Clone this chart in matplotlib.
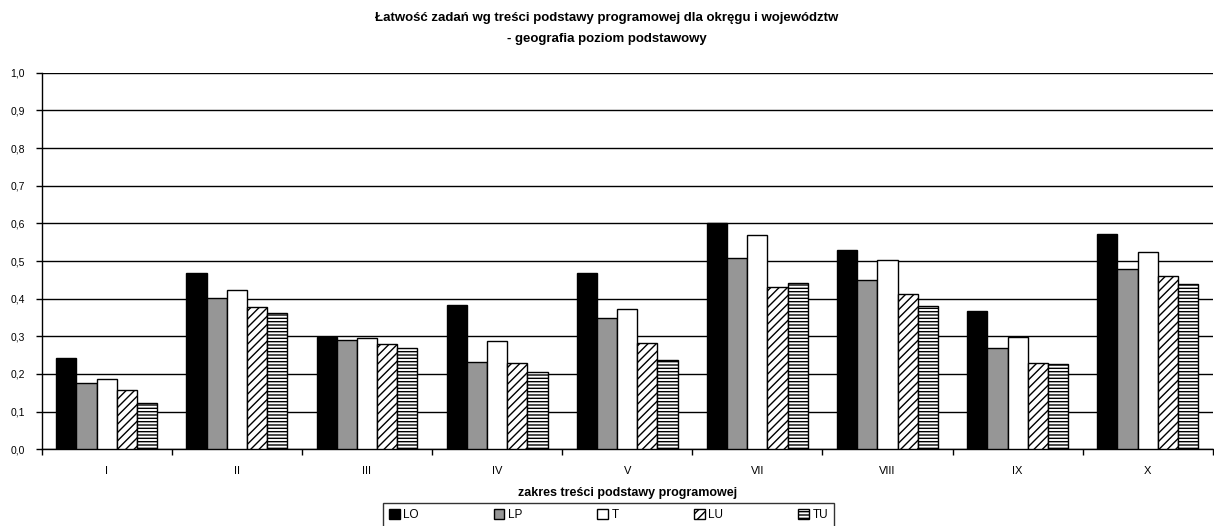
import matplotlib
matplotlib.use("Agg")
import matplotlib.pyplot as plt
import numpy as np
from matplotlib.ticker import FuncFormatter, MultipleLocator

categories = ["I", "II", "III", "IV", "V", "VII", "VIII", "IX", "X"]
series_names = ["LO", "LP", "T", "LU", "TU"]
LO = [0.243, 0.469, 0.299, 0.384, 0.469, 0.600, 0.530, 0.368, 0.572]
LP = [0.175, 0.402, 0.290, 0.231, 0.349, 0.509, 0.449, 0.270, 0.478]
T = [0.187, 0.423, 0.295, 0.288, 0.373, 0.569, 0.502, 0.298, 0.524]
LU = [0.157, 0.379, 0.279, 0.228, 0.282, 0.431, 0.412, 0.230, 0.460]
TU = [0.123, 0.363, 0.268, 0.206, 0.236, 0.441, 0.380, 0.227, 0.438]

title = "Łatwość zadań wg treści podstawy programowej dla okręgu i województw\n- geografia poziom podstawowy"
xlabel = "zakres treści podstawy programowej"

plt.rcParams['font.family'] = ['Liberation Sans', 'DejaVu Sans']
plt.rcParams['hatch.linewidth'] = 1.0

fig = plt.figure(figsize=(12.14, 5.26), dpi=100)
ax = fig.add_axes([0.0343, 0.1458, 0.9647, 0.716])

data = [LO, LP, T, LU, TU]
faces = ["black", "#969696", "white", "white", "white"]
hatches = [None, None, None, "////", "-----"]
x = np.arange(len(categories))
w = 0.155
for i, (vals, fc, h, name) in enumerate(zip(data, faces, hatches, series_names)):
    ax.bar(x + (i - 2) * w, vals, width=w, color=fc, edgecolor="black",
           linewidth=1.0, hatch=h, label=name, zorder=3)

ax.set_xlim(-0.5, len(categories) - 0.5)
ax.set_ylim(0, 1.0)
ax.yaxis.set_major_locator(MultipleLocator(0.1))
ax.yaxis.set_major_formatter(FuncFormatter(lambda v, p: f"{v:.1f}".replace(".", ",")))
ax.grid(axis="y", color="black", linewidth=1.0, zorder=0)
ax.set_axisbelow(True)

ax.set_xticks(x)
ax.set_xticklabels(categories)
ax.set_xticks(np.arange(-0.5, len(categories) + 0.5, 1.0), minor=True)
ax.tick_params(axis="x", which="major", length=0, pad=12, labelsize=8)
ax.tick_params(axis="x", which="minor", length=4, width=1.0, direction="out")
ax.tick_params(axis="y", length=4, width=1.0, direction="out", labelsize=7.5, pad=8)

for s in ["top", "right"]:
    ax.spines[s].set_visible(False)
ax.spines["left"].set_linewidth(1.0)
ax.spines["bottom"].set_linewidth(1.0)

ax.set_xlabel(xlabel, fontsize=9, fontweight="bold", labelpad=8)
fig.text(0.5, 1 - 18 / 526, "Łatwość zadań wg treści podstawy programowej dla okręgu i województw",
         ha="center", va="center", fontsize=9.5, fontweight="bold")
fig.text(0.5, 1 - 39 / 526, "- geografia poziom podstawowy",
         ha="center", va="center", fontsize=9.5, fontweight="bold")

top = 1 - 503 / 526
leg = fig.legend(loc="upper left",
                 bbox_to_anchor=(383 / 1214, top - 0.06, (834 - 383) / 1214, 0.06),
                 mode="expand", ncol=5, frameon=True, fancybox=False,
                 edgecolor="black", fontsize=8.5, handlelength=0.9, handleheight=0.9,
                 handletextpad=0.3, borderaxespad=0, borderpad=0.5)
leg.get_frame().set_linewidth(1.0)

fig.savefig("out.png", dpi=100)
